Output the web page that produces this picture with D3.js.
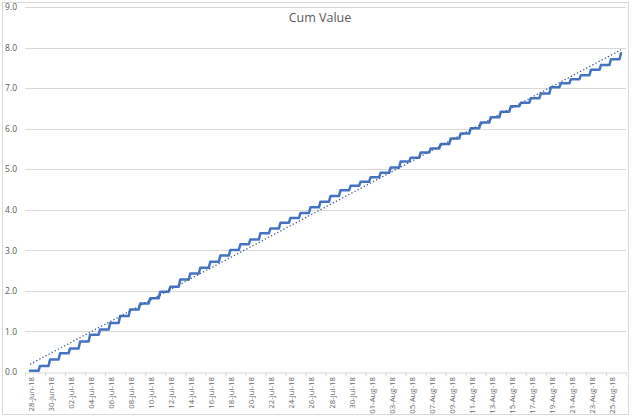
<!DOCTYPE html>
<html>
<head>
<meta charset="utf-8">
<script src="https://cdn.jsdelivr.net/npm/d3@7"></script>
<style>
  html, body { margin: 0; padding: 0; background: #fff; }
  svg { display: block; }
  text { font-family: "Open Sans", "Liberation Sans", sans-serif; }
</style>
</head>
<body>
<svg id="chart" width="640" height="419"></svg>
<script>
// ---- data ----
const title = "Cum Value";
const dates = [
  "28-Jun-18","29-Jun-18","30-Jun-18",
  "01-Jul-18","02-Jul-18","03-Jul-18","04-Jul-18","05-Jul-18","06-Jul-18","07-Jul-18","08-Jul-18","09-Jul-18","10-Jul-18",
  "11-Jul-18","12-Jul-18","13-Jul-18","14-Jul-18","15-Jul-18","16-Jul-18","17-Jul-18","18-Jul-18","19-Jul-18","20-Jul-18",
  "21-Jul-18","22-Jul-18","23-Jul-18","24-Jul-18","25-Jul-18","26-Jul-18","27-Jul-18","28-Jul-18","29-Jul-18","30-Jul-18","31-Jul-18",
  "01-Aug-18","02-Aug-18","03-Aug-18","04-Aug-18","05-Aug-18","06-Aug-18","07-Aug-18","08-Aug-18","09-Aug-18","10-Aug-18",
  "11-Aug-18","12-Aug-18","13-Aug-18","14-Aug-18","15-Aug-18","16-Aug-18","17-Aug-18","18-Aug-18","19-Aug-18","20-Aug-18",
  "21-Aug-18","22-Aug-18","23-Aug-18","24-Aug-18","25-Aug-18","26-Aug-18"
];
const cumValue = [
  0.03, 0.15, 0.31, 0.46, 0.58, 0.75, 0.92, 1.05, 1.21, 1.38,
  1.54, 1.69, 1.82, 1.98, 2.10, 2.28, 2.43, 2.57, 2.72, 2.87,
  3.01, 3.15, 3.27, 3.42, 3.54, 3.68, 3.80, 3.92, 4.06, 4.20,
  4.34, 4.48, 4.59, 4.69, 4.80, 4.91, 5.04, 5.19, 5.28, 5.41,
  5.51, 5.62, 5.76, 5.88, 6.01, 6.15, 6.28, 6.42, 6.55, 6.64,
  6.75, 6.87, 7.02, 7.12, 7.22, 7.32, 7.45, 7.57, 7.71, 7.86
];
const yTicks = [0, 1, 2, 3, 4, 5, 6, 7, 8, 9];

// ---- layout ----
const svg = d3.select("#chart");
const plotLeft = 25, plotRight = 626, plotTop = 7, plotBottom = 372;
const n = dates.length;

const x = d3.scaleLinear().domain([-0.5, n - 0.5]).range([plotLeft, plotRight]);
const y = d3.scaleLinear().domain([0, 9]).range([plotBottom, plotTop]);

// chart border
svg.append("rect")
  .attr("x", 2.5).attr("y", 2.5).attr("width", 626).attr("height", 412)
  .attr("fill", "none").attr("stroke", "#d9d9d9").attr("stroke-width", 1);

// gridlines
svg.append("g")
  .selectAll("line").data(yTicks.filter(d => d > 0)).join("line")
  .attr("x1", plotLeft).attr("x2", plotRight)
  .attr("y1", d => Math.round(y(d)) + 0.5).attr("y2", d => Math.round(y(d)) + 0.5)
  .attr("stroke", "#d9d9d9").attr("stroke-width", 1);

// y axis labels
const yAxis = d3.axisLeft(y).tickValues(yTicks).tickFormat(d3.format(".1f")).tickSize(0).tickPadding(0);
const gy = svg.append("g").attr("transform", `translate(${plotLeft - 8},0)`).call(yAxis);
gy.select(".domain").remove();
gy.selectAll("text").attr("fill", "#595959").style("font-size", "8.5px");

// x axis: tick marks at category boundaries every 2 days
const boundaryTicks = d3.range(-0.5, n, 2).concat([n - 0.5]);
const xAxisTicks = d3.axisBottom(x).tickValues(boundaryTicks).tickFormat("").tickSizeOuter(0).tickSizeInner(4);
const gx = svg.append("g").attr("transform", `translate(0,${Math.round(plotBottom) + 0.5})`).call(xAxisTicks);
gx.select(".domain").attr("stroke", "#d9d9d9");
gx.selectAll(".tick line").attr("stroke", "#d9d9d9");

// x labels every 2 days, rotated
const labelIdx = d3.range(0, n, 2);
const xAxisLabels = d3.axisBottom(x).tickValues(labelIdx).tickFormat(i => dates[i]).tickSize(0);
const gxl = svg.append("g").attr("transform", `translate(0,${plotBottom + 5})`).call(xAxisLabels);
gxl.select(".domain").remove();
gxl.selectAll("text")
  .attr("fill", "#666666").style("font-size", "7.8px")
  .attr("text-anchor", "end")
  .attr("transform", "rotate(-90)")
  .attr("x", 0).attr("y", 0).attr("dy", "0.45em");

// step line points (each day: end of previous level, then new level)
const pts = [];
cumValue.forEach((v, i) => {
  if (i > 0) pts.push([i - 0.15, cumValue[i - 1]]);
  pts.push([i, v]);
});

// trendline: linear regression over the plotted step points
const meanX = d3.mean(pts, d => d[0]);
const meanY = d3.mean(pts, d => d[1]);
const slope = d3.sum(pts, d => (d[0] - meanX) * (d[1] - meanY)) / d3.sum(pts, d => (d[0] - meanX) ** 2);
const intercept = meanY - slope * meanX;

const line = d3.line().x(d => x(d[0])).y(d => y(d[1]));
svg.append("path")
  .attr("d", line(pts))
  .attr("fill", "none").attr("stroke", "#4472C4").attr("stroke-width", 2.5)
  .attr("stroke-linejoin", "round").attr("stroke-linecap", "round");

svg.append("path")
  .attr("d", line([[0, intercept], [n - 1, intercept + slope * (n - 1)]]))
  .attr("fill", "none").attr("stroke", "#3b5a96").attr("stroke-width", 1.3)
  .attr("stroke-dasharray", "1.3,2.2");

// title
svg.append("text")
  .attr("x", 320).attr("y", 22).attr("text-anchor", "middle")
  .attr("fill", "#595959").style("font-size", "12.5px")
  .text(title);
</script>
</body>
</html>
